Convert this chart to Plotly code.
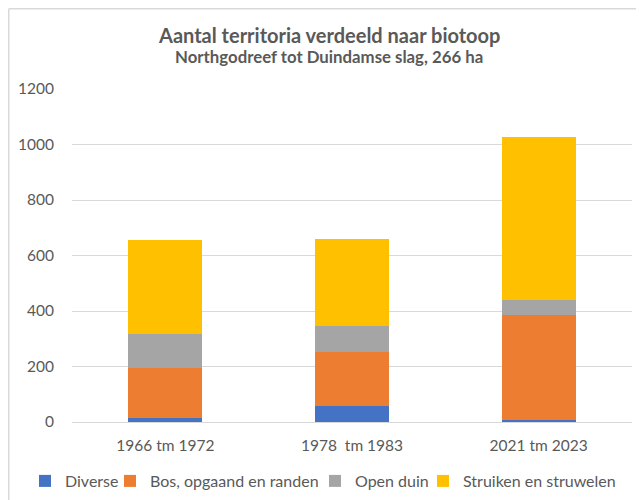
import plotly.graph_objects as go

categories = ["1966 tm 1972", "1978\u00a0 tm 1983", "2021 tm 2023"]
diverse = [15, 58, 6]
bos = [180, 194, 378]
open_duin = [122, 94, 54]
struiken = [339, 313, 589]
y_ticks = [0, 200, 400, 600, 800, 1000, 1200]

series = [
    ("Diverse", diverse, "#4472C4", 40),
    ("Bos, opgaand en randen", bos, "#ED7D31", 160),
    ("Open duin", open_duin, "#A5A5A5", 63),
    ("Struiken en struwelen", struiken, "#FFC000", 150),
]

FONT = "Lato, 'Noto Sans', sans-serif"
GREY = "#595959"
W, H = 636, 492
L, R, T, B = 64, 12, 81, 78
PW, PH = W - L - R, H - T - B

def px(x):
    return (x - L) / PW

def py(y):
    return (H - B - y) / PH

fig = go.Figure()
for name, vals, col, lw in series:
    fig.add_trace(go.Bar(x=categories, y=vals, name=name, legendwidth=lw,
                         marker=dict(color=col, line=dict(width=0))))

fig.update_layout(
    width=W, height=H,
    barmode="stack", bargap=0.604,
    paper_bgcolor="white", plot_bgcolor="white",
    margin=dict(l=L, r=R, t=T, b=B, autoexpand=False),
    font=dict(family=FONT, size=15, color=GREY),
    showlegend=True,
    legend=dict(orientation="h", xref="paper", yref="paper",
                x=px(17), xanchor="left", y=py(473), yanchor="middle",
                font=dict(size=16, color=GREY), itemwidth=30, traceorder="normal"),
    xaxis=dict(showgrid=False, showline=False, ticks="outside", ticklen=9, tickcolor="rgba(0,0,0,0)",
               tickfont=dict(size=15.5, color=GREY)),
    yaxis=dict(range=[0, 1200], tickvals=y_ticks, showgrid=True, gridcolor="#D9D9D9", gridwidth=1,
               zeroline=True, zerolinecolor="#D9D9D9", zerolinewidth=1,
               ticks="outside", ticklen=14, tickcolor="rgba(0,0,0,0)",
               tickfont=dict(size=15.5, color=GREY)),
    annotations=[
        dict(text="<b>Aantal territoria verdeeld naar biotoop</b>", xref="paper", yref="paper",
             x=px(321), y=py(27), xanchor="center", yanchor="middle",
             showarrow=False, font=dict(size=20, color=GREY, family=FONT)),
        dict(text="<b>Northgodreef tot Duindamse slag, 266 ha</b>", xref="paper", yref="paper",
             x=px(321), y=py(49), xanchor="center", yanchor="middle",
             showarrow=False, font=dict(size=16.8, color=GREY, family=FONT)),
    ],
    shapes=[
        dict(type="line", xref="paper", yref="paper", x0=px(0.75), x1=px(0.75),
             y0=py(0.75), y1=py(H + 10), line=dict(color="#D9D9D9", width=1.5)),
        dict(type="line", xref="paper", yref="paper", x0=px(0.75), x1=px(W + 10),
             y0=py(0.75), y1=py(0.75), line=dict(color="#D9D9D9", width=1.5)),
    ],
)

fig.write_html("out.html")
